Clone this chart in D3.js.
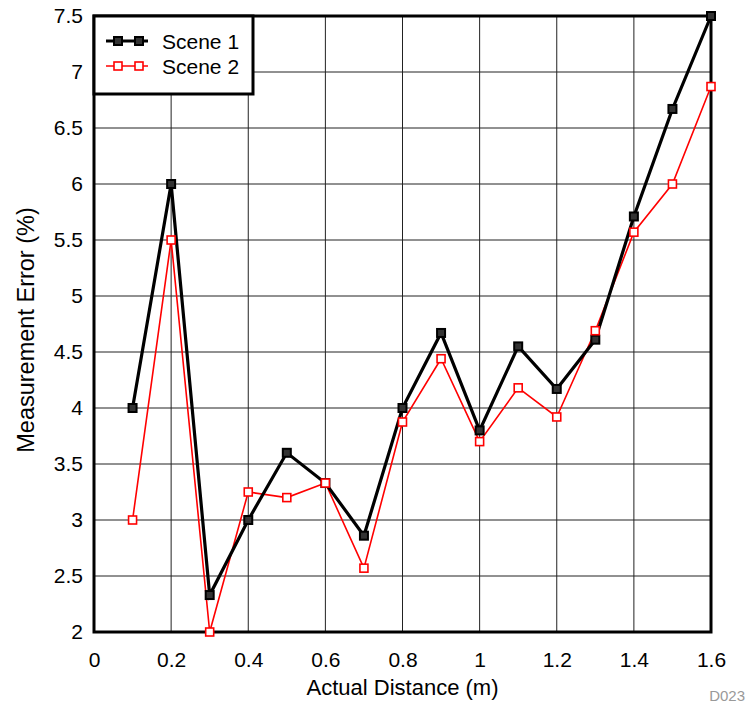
<!DOCTYPE html>
<html>
<head>
<meta charset="utf-8">
<script src="https://cdn.jsdelivr.net/npm/d3@7"></script>
<style>
  body { margin: 0; background: #fff; }
  text { font-family: "Liberation Sans", Arial, sans-serif; }
</style>
</head>
<body>
<svg id="chart"></svg>
<script>
const distances = [0.1, 0.2, 0.3, 0.4, 0.5, 0.6, 0.7, 0.8, 0.9, 1.0, 1.1, 1.2, 1.3, 1.4, 1.5, 1.6];
const scene1 = [4.0, 6.0, 2.33, 3.0, 3.6, 3.33, 2.86, 4.0, 4.67, 3.8, 4.55, 4.17, 4.61, 5.71, 6.67, 7.5];
const scene2 = [3.0, 5.5, 2.0, 3.25, 3.2, 3.33, 2.57, 3.875, 4.44, 3.7, 4.18, 3.92, 4.69, 5.57, 6.0, 6.87];
const xTicks = [0, 0.2, 0.4, 0.6, 0.8, 1, 1.2, 1.4, 1.6];
const yTicks = [2, 2.5, 3, 3.5, 4, 4.5, 5, 5.5, 6, 6.5, 7, 7.5];
const seriesNames = ["Scene 1", "Scene 2"];

const width = 747, height = 704;
const margin = { top: 16, right: 36, bottom: 72, left: 94 };
const innerW = width - margin.left - margin.right;
const innerH = height - margin.top - margin.bottom;
const fontSize = 21;

const svg = d3.select("#chart").attr("width", width).attr("height", height);
const g = svg.append("g").attr("transform", `translate(${margin.left},${margin.top})`);

const x = d3.scaleLinear().domain([0, 1.6]).range([0, innerW]);
const y = d3.scaleLinear().domain([2, 7.5]).range([innerH, 0]);

// grid
g.append("g").selectAll("line").data(xTicks).enter().append("line")
  .attr("x1", d => x(d)).attr("x2", d => x(d))
  .attr("y1", 0).attr("y2", innerH)
  .attr("stroke", "#222").attr("stroke-width", 1);
g.append("g").selectAll("line").data(yTicks).enter().append("line")
  .attr("x1", 0).attr("x2", innerW)
  .attr("y1", d => y(d)).attr("y2", d => y(d))
  .attr("stroke", "#222").attr("stroke-width", 1);

// axes (labels only)
const xAxis = g.append("g").attr("transform", `translate(0,${innerH})`)
  .call(d3.axisBottom(x).tickValues(xTicks).tickFormat(d3.format("")).tickSize(0).tickPadding(20));
const yAxis = g.append("g")
  .call(d3.axisLeft(y).tickValues(yTicks).tickFormat(d3.format("")).tickSize(0).tickPadding(11));
[xAxis, yAxis].forEach(a => {
  a.select(".domain").remove();
  a.selectAll("text").attr("font-size", fontSize).attr("fill", "#000")
    .attr("font-family", "Liberation Sans, Arial, sans-serif");
});

// frame
g.append("rect").attr("x", 0).attr("y", 0).attr("width", innerW).attr("height", innerH)
  .attr("fill", "none").attr("stroke", "#000").attr("stroke-width", 3);

const line = d3.line().x((d, i) => x(distances[i])).y(d => y(d));

// scene 2
g.append("path").datum(scene2).attr("d", line)
  .attr("fill", "none").attr("stroke", "#ff0000").attr("stroke-width", 1.6);
// scene 1
g.append("path").datum(scene1).attr("d", line)
  .attr("fill", "none").attr("stroke", "#000").attr("stroke-width", 3.2);

g.append("g").selectAll("rect").data(scene1).enter().append("rect")
  .attr("x", (d, i) => x(distances[i]) - 4).attr("y", d => y(d) - 4)
  .attr("width", 8).attr("height", 8)
  .attr("fill", "#333").attr("stroke", "#000").attr("stroke-width", 2);
g.append("g").selectAll("rect").data(scene2).enter().append("rect")
  .attr("x", (d, i) => x(distances[i]) - 4).attr("y", d => y(d) - 4)
  .attr("width", 8).attr("height", 8)
  .attr("fill", "#fff").attr("stroke", "#ff0000").attr("stroke-width", 1.6);

// legend
const legend = g.append("g");
legend.append("rect").attr("x", 0).attr("y", 0).attr("width", 159).attr("height", 78)
  .attr("fill", "#fff").attr("stroke", "#000").attr("stroke-width", 3);
const legStyles = [
  { color: "#000", w: 3.2, fill: "#333" },
  { color: "#ff0000", w: 1.6, fill: "#fff" }
];
seriesNames.forEach((name, i) => {
  const ly = 25 + i * 25;
  const s = legStyles[i];
  legend.append("line").attr("x1", 12).attr("x2", 54).attr("y1", ly).attr("y2", ly)
    .attr("stroke", s.color).attr("stroke-width", s.w);
  [24, 45].forEach(mx => {
    legend.append("rect").attr("x", mx - 4).attr("y", ly - 4).attr("width", 8).attr("height", 8)
      .attr("fill", s.fill).attr("stroke", s.color).attr("stroke-width", i === 0 ? 2 : 1.6);
  });
  legend.append("text").attr("x", 68).attr("y", ly + 8).attr("font-size", fontSize).text(name);
});

// axis titles
svg.append("text").attr("x", margin.left + innerW / 2).attr("y", 695)
  .attr("text-anchor", "middle").attr("font-size", 22).text("Actual Distance (m)");
svg.append("text")
  .attr("transform", "translate(34,330) rotate(-90)")
  .attr("text-anchor", "middle").attr("font-size", 23.5).text("Measurement Error (%)");
svg.append("text").attr("x", 745).attr("y", 701).attr("text-anchor", "end")
  .attr("font-size", 15).attr("fill", "#999").text("D023");
</script>
</body>
</html>
